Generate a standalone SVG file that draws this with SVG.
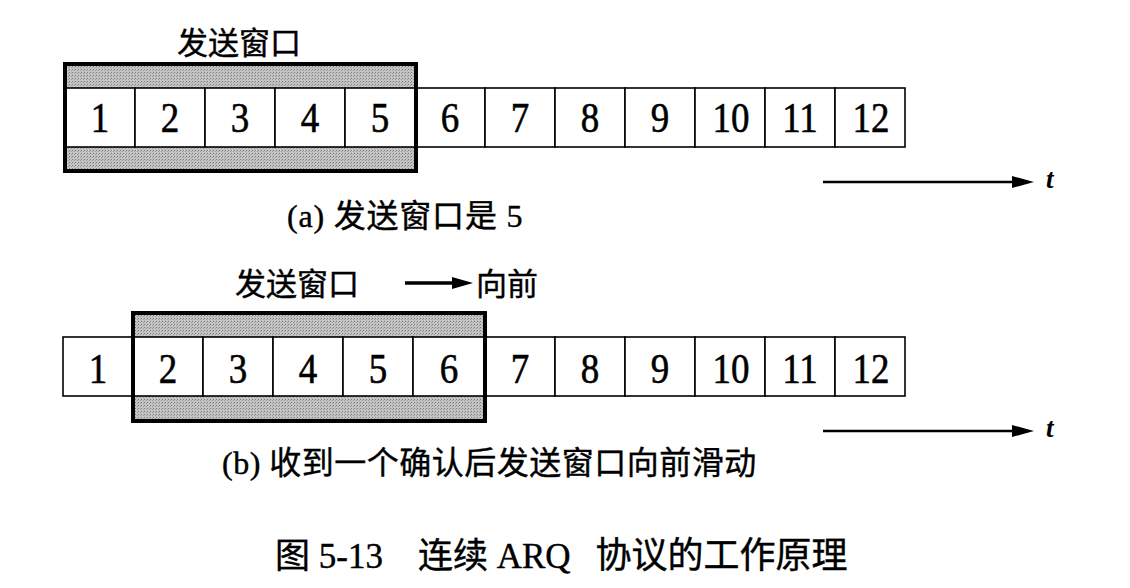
<svg xmlns="http://www.w3.org/2000/svg" width="1130" height="588" viewBox="0 0 1130 588">
<style>
.cell{fill:#fff;stroke:#000;stroke-width:1.6}
.winb{fill:none;stroke:#000;stroke-width:4}
.num{font-family:"Liberation Serif","Times New Roman",serif;font-size:42px;text-anchor:middle;fill:#000;stroke:#000;stroke-width:0.6}
.lbl{font-family:"Liberation Serif","Noto Sans CJK SC",serif;font-size:31px;fill:#000;stroke:#000;stroke-width:0.4}
.cap{font-family:"Liberation Serif","Noto Sans CJK SC",serif;font-size:32px;fill:#000;stroke:#000;stroke-width:0.4}
.ttl{font-family:"Liberation Serif","Noto Sans CJK SC",serif;font-size:35px;fill:#000;stroke:#000;stroke-width:0.4}
.tt{font-family:"Liberation Serif",serif;font-style:italic;font-weight:bold;font-size:27px;fill:#000}
.ax{stroke:#000;stroke-width:2.5;fill:none}
</style>
<defs>
<pattern id="dots" width="3" height="3" patternUnits="userSpaceOnUse">
<rect width="3" height="3" fill="#c4c4c4"/>
<rect width="1" height="1" fill="#7a7a7a"/>
<rect x="2" y="1" width="1" height="1" fill="#9a9a9a"/>
</pattern>
</defs>

<g id="row-a">
<rect x="65" y="64" width="351" height="107" fill="url(#dots)"/>
<g id="cells-a">
<rect class="cell" x="65" y="88" width="70" height="59"/>
<rect class="cell" x="135" y="88" width="70" height="59"/>
<rect class="cell" x="205" y="88" width="70" height="59"/>
<rect class="cell" x="275" y="88" width="70" height="59"/>
<rect class="cell" x="345" y="88" width="71" height="59"/>
<rect class="cell" x="416" y="88" width="69" height="59"/>
<rect class="cell" x="485" y="88" width="70" height="59"/>
<rect class="cell" x="555" y="88" width="70" height="59"/>
<rect class="cell" x="625" y="88" width="70" height="59"/>
<rect class="cell" x="695" y="88" width="70" height="59"/>
<rect class="cell" x="765" y="88" width="70" height="59"/>
<rect class="cell" x="835" y="88" width="70" height="59"/>
</g>
<rect class="winb" x="65" y="64" width="351" height="107"/>
<g id="nums-a">
<text class="num" transform="translate(100,132) scale(0.88,1)">1</text>
<text class="num" transform="translate(170,132) scale(0.88,1)">2</text>
<text class="num" transform="translate(240,132) scale(0.88,1)">3</text>
<text class="num" transform="translate(310,132) scale(0.88,1)">4</text>
<text class="num" transform="translate(380,132) scale(0.88,1)">5</text>
<text class="num" transform="translate(450,132) scale(0.88,1)">6</text>
<text class="num" transform="translate(520,132) scale(0.88,1)">7</text>
<text class="num" transform="translate(590,132) scale(0.88,1)">8</text>
<text class="num" transform="translate(660,132) scale(0.88,1)">9</text>
<text class="num" transform="translate(731,132) scale(0.88,1)">10</text>
<text class="num" transform="translate(800,132) scale(0.88,1)">11</text>
<text class="num" transform="translate(871,132) scale(0.88,1)">12</text>
</g>
<text id="label-a" class="lbl" x="177" y="54">发送窗口</text>
<g id="axis-a">
<line class="ax" x1="823" y1="182" x2="1014" y2="182"/>
<polygon points="1012,176 1034,182 1012,188" fill="#000"/>
<text class="tt" x="1046" y="188">t</text>
</g>
<text id="caption-a" class="cap" x="287" y="227" letter-spacing="0.8">(a) 发送窗口是 5</text>
</g>

<g id="row-b">
<rect x="133" y="313" width="352" height="108" fill="url(#dots)"/>
<g id="cells-b">
<rect class="cell" x="63" y="337" width="70" height="59"/>
<rect class="cell" x="133" y="337" width="70" height="59"/>
<rect class="cell" x="203" y="337" width="70" height="59"/>
<rect class="cell" x="273" y="337" width="70" height="59"/>
<rect class="cell" x="343" y="337" width="70" height="59"/>
<rect class="cell" x="413" y="337" width="72" height="59"/>
<rect class="cell" x="485" y="337" width="70" height="59"/>
<rect class="cell" x="555" y="337" width="70" height="59"/>
<rect class="cell" x="625" y="337" width="70" height="59"/>
<rect class="cell" x="695" y="337" width="70" height="59"/>
<rect class="cell" x="765" y="337" width="70" height="59"/>
<rect class="cell" x="835" y="337" width="70" height="59"/>
</g>
<rect class="winb" x="133" y="313" width="352" height="108"/>
<g id="nums-b">
<text class="num" transform="translate(98,383) scale(0.88,1)">1</text>
<text class="num" transform="translate(168,383) scale(0.88,1)">2</text>
<text class="num" transform="translate(238,383) scale(0.88,1)">3</text>
<text class="num" transform="translate(308,383) scale(0.88,1)">4</text>
<text class="num" transform="translate(378,383) scale(0.88,1)">5</text>
<text class="num" transform="translate(449,383) scale(0.88,1)">6</text>
<text class="num" transform="translate(520,383) scale(0.88,1)">7</text>
<text class="num" transform="translate(590,383) scale(0.88,1)">8</text>
<text class="num" transform="translate(660,383) scale(0.88,1)">9</text>
<text class="num" transform="translate(731,383) scale(0.88,1)">10</text>
<text class="num" transform="translate(800,383) scale(0.88,1)">11</text>
<text class="num" transform="translate(871,383) scale(0.88,1)">12</text>
</g>
<text id="label-b" class="lbl" x="235" y="295">发送窗口</text>
<g id="forward">
<line x1="405" y1="283" x2="455" y2="283" stroke="#000" stroke-width="3.5"/>
<polygon points="452,277 473,283 452,289" fill="#000"/>
<text class="lbl" x="476" y="295">向前</text>
</g>
<g id="axis-b">
<line class="ax" x1="823" y1="431" x2="1014" y2="431"/>
<polygon points="1012,425 1034,431 1012,437" fill="#000"/>
<text class="tt" x="1046" y="437">t</text>
</g>
<text id="caption-b" class="cap" x="222" y="474" letter-spacing="0.5">(b) 收到一个确认后发送窗口向前滑动</text>
</g>

<text id="title" class="ttl" x="275" y="568">图 5-13　连续 ARQ<tspan dx="16" font-size="36"> 协议的工作原理</tspan></text>
</svg>
